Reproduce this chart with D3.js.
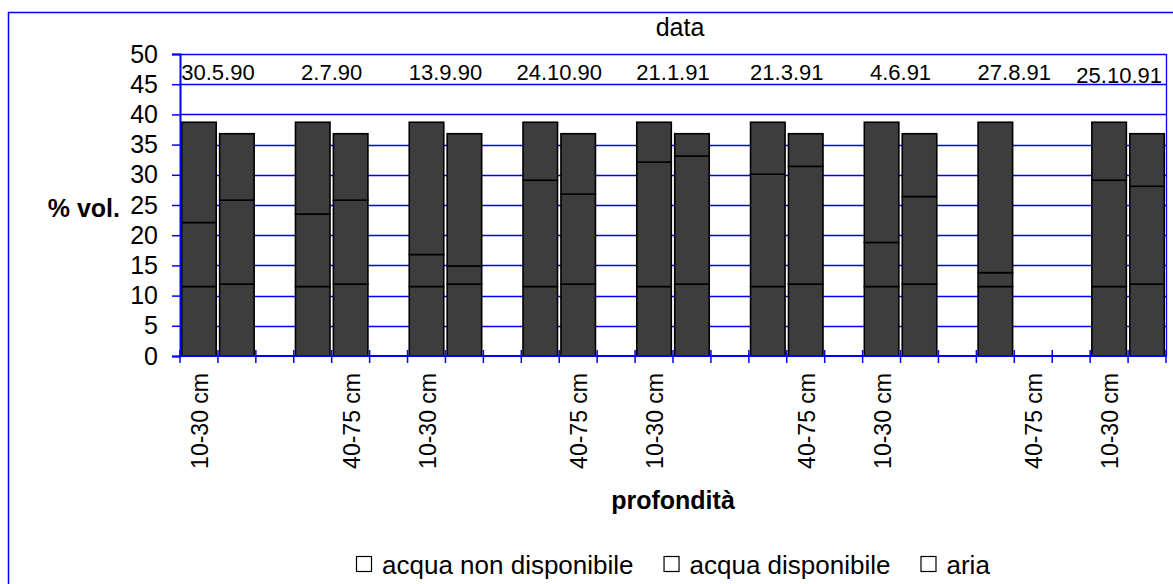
<!DOCTYPE html>
<html>
<head>
<meta charset="utf-8">
<script src="https://cdn.jsdelivr.net/npm/d3@7/dist/d3.min.js"></script>
<style>
  html, body { margin: 0; padding: 0; background: #fff; }
  svg { display: block; font-family: "Liberation Sans", Arial, sans-serif; }
</style>
</head>
<body>
<svg id="chart" width="1173" height="584"></svg>
<script>
// Soil depth categories (two per sampling date, then an empty spacer slot)
const depths = [
  "10-30 cm", "40-75 cm", "",
  "10-30 cm", "40-75 cm", "",
  "10-30 cm", "40-75 cm", "",
  "10-30 cm", "40-75 cm", "",
  "10-30 cm", "40-75 cm", "",
  "10-30 cm", "40-75 cm", "",
  "10-30 cm", "40-75 cm", "",
  "10-30 cm", "40-75 cm", "",
  "10-30 cm", "40-75 cm"
];

// Sampling dates (secondary category axis)
const dates = ["30.5.90", "2.7.90", "13.9.90", "24.10.90", "21.1.91", "21.3.91", "4.6.91", "27.8.91", "25.10.91"];

// Stacked components, % vol.
const acquaNonDisponibile = [
  11.5, 11.9, null, 11.5, 11.9, null, 11.5, 11.9, null,
  11.5, 11.9, null, 11.5, 11.9, null, 11.5, 11.9, null,
  11.5, 11.9, null, 11.5, null, null, 11.5, 11.9
];
const acquaDisponibile = [
  10.6, 13.9, null, 12.0, 13.9, null, 5.3, 3.0, null,
  17.6, 14.9, null, 20.6, 21.2, null, 18.6, 19.5, null,
  7.3, 14.5, null, 2.3, null, null, 17.6, 16.2
];
const aria = [
  16.6, 11.0, null, 15.2, 11.0, null, 21.9, 21.9, null,
  9.6, 10.0, null, 6.6, 3.7, null, 8.6, 5.4, null,
  19.9, 10.4, null, 24.9, null, null, 9.6, 8.7
];

const seriesNames = ["acqua non disponibile", "acqua disponibile", "aria"];
const yTicks = [0, 5, 10, 15, 20, 25, 30, 35, 40, 45, 50];

const BLUE = "#0000ff";
const svg = d3.select("#chart");

// Outer chart frame (runs off the right and bottom edges)
svg.append("rect")
  .attr("x", 8.5).attr("y", 12.5)
  .attr("width", 1200).attr("height", 620)
  .attr("fill", "#fff").attr("stroke", BLUE).attr("stroke-width", 1.5);

const plot = { left: 180, right: 1166, top: 54, bottom: 356 };

const x = d3.scaleBand()
  .domain(d3.range(depths.length))
  .range([plot.left, plot.right])
  .paddingInner(0.09)
  .paddingOuter(0.045);

const y = d3.scaleLinear().domain([0, 50]).range([plot.bottom, plot.top]);

// Horizontal gridlines
svg.append("g")
  .selectAll("line")
  .data(yTicks.filter(d => d > 0))
  .join("line")
  .attr("x1", plot.left).attr("x2", plot.right)
  .attr("y1", d => Math.round(y(d)) + 0.5).attr("y2", d => Math.round(y(d)) + 0.5)
  .attr("stroke", BLUE).attr("stroke-width", 1.3);

// Right edge of plot area
svg.append("line")
  .attr("x1", plot.right + 0.5).attr("x2", plot.right + 0.5)
  .attr("y1", plot.top).attr("y2", plot.bottom)
  .attr("stroke", BLUE).attr("stroke-width", 1.3);

// Stack the three components
const rows = depths.map((d, i) => ({
  i,
  a: acquaNonDisponibile[i],
  b: acquaDisponibile[i],
  c: aria[i]
}));
const stack = d3.stack().keys(["a", "b", "c"]).value((d, k) => d[k] == null ? 0 : d[k]);
const layers = stack(rows);

svg.append("g")
  .selectAll("g")
  .data(layers)
  .join("g")
  .selectAll("rect")
  .data(l => l.filter(s => rows[s.data.i][l.key] != null))
  .join("rect")
  .attr("x", s => x(s.data.i))
  .attr("width", x.bandwidth())
  .attr("y", s => y(s[1]))
  .attr("height", s => y(s[0]) - y(s[1]))
  .attr("fill", "#3d3d3d")
  .attr("stroke", "#000")
  .attr("stroke-width", 1.6);

// Y axis
const yAxis = svg.append("g")
  .attr("transform", `translate(${plot.left},0)`)
  .call(d3.axisLeft(y).tickValues(yTicks).tickSize(8).tickPadding(14));
yAxis.select(".domain").attr("stroke", BLUE).attr("stroke-width", 2);
yAxis.selectAll(".tick line").attr("stroke", BLUE).attr("stroke-width", 1.5);
yAxis.selectAll(".tick text")
  .attr("font-size", 25).attr("fill", "#000")
  .attr("font-family", "Liberation Sans, Arial, sans-serif");

// X axis: line plus tick marks at category boundaries
const step = x.step();
const boundaries = d3.range(depths.length + 1).map(k => plot.left + k * step);
svg.append("line")
  .attr("x1", plot.left - 1).attr("x2", plot.right + 1)
  .attr("y1", plot.bottom).attr("y2", plot.bottom)
  .attr("stroke", BLUE).attr("stroke-width", 2.2);
svg.append("g")
  .selectAll("line")
  .data(boundaries)
  .join("line")
  .attr("x1", d => d).attr("x2", d => d)
  .attr("y1", plot.bottom - 6).attr("y2", plot.bottom + 7)
  .attr("stroke", BLUE).attr("stroke-width", 1.5);

// Category labels: every second category, rotated
svg.append("g")
  .selectAll("text")
  .data(depths.map((d, i) => ({ d, i })).filter(o => o.i % 2 === 0 && o.d !== ""))
  .join("text")
  .attr("transform", o => `translate(${x(o.i) + x.bandwidth() / 2 + 1},${plot.bottom + 17}) rotate(-90)`)
  .attr("text-anchor", "end")
  .attr("dy", "0.35em")
  .attr("font-size", 23)
  .text(o => o.d);

// Date labels along the top, centred on each pair of bars
svg.append("g")
  .selectAll("text")
  .data(dates)
  .join("text")
  .attr("x", (d, k) => x(k * 3 + 1) - (step - x.bandwidth()) / 2)
  .attr("y", 80)
  .attr("text-anchor", "middle")
  .attr("font-size", 22)
  .text(d => d)
  .each(function () {
    const t = d3.select(this);
    const w = this.getComputedTextLength();
    const cx = +t.attr("x");
    if (cx + w / 2 > plot.right - 4) {
      t.attr("x", plot.right - 4 - w / 2).attr("y", 83);
    }
  });

// Titles
svg.append("text")
  .attr("x", 680).attr("y", 36)
  .attr("text-anchor", "middle")
  .attr("font-size", 25)
  .text("data");

svg.append("text")
  .attr("x", 120).attr("y", 208)
  .attr("text-anchor", "end")
  .attr("dy", "0.35em")
  .attr("font-size", 25).attr("font-weight", "bold")
  .text("% vol.");

svg.append("text")
  .attr("x", 673).attr("y", 509)
  .attr("text-anchor", "middle")
  .attr("font-size", 25).attr("font-weight", "bold")
  .text("profondità");

// Legend
const legend = svg.append("g").attr("transform", "translate(356,0)");
let lx = 0;
seriesNames.forEach(name => {
  const g = legend.append("g").attr("transform", `translate(${lx},0)`);
  g.append("rect")
    .attr("x", 0.5).attr("y", 556.5)
    .attr("width", 15).attr("height", 15)
    .attr("fill", "#fff").attr("stroke", "#000").attr("stroke-width", 1.2);
  const t = g.append("text")
    .attr("x", 26).attr("y", 574)
    .attr("font-size", 26)
    .text(name);
  lx += 26 + t.node().getComputedTextLength() + 30;
});
</script>
</body>
</html>
